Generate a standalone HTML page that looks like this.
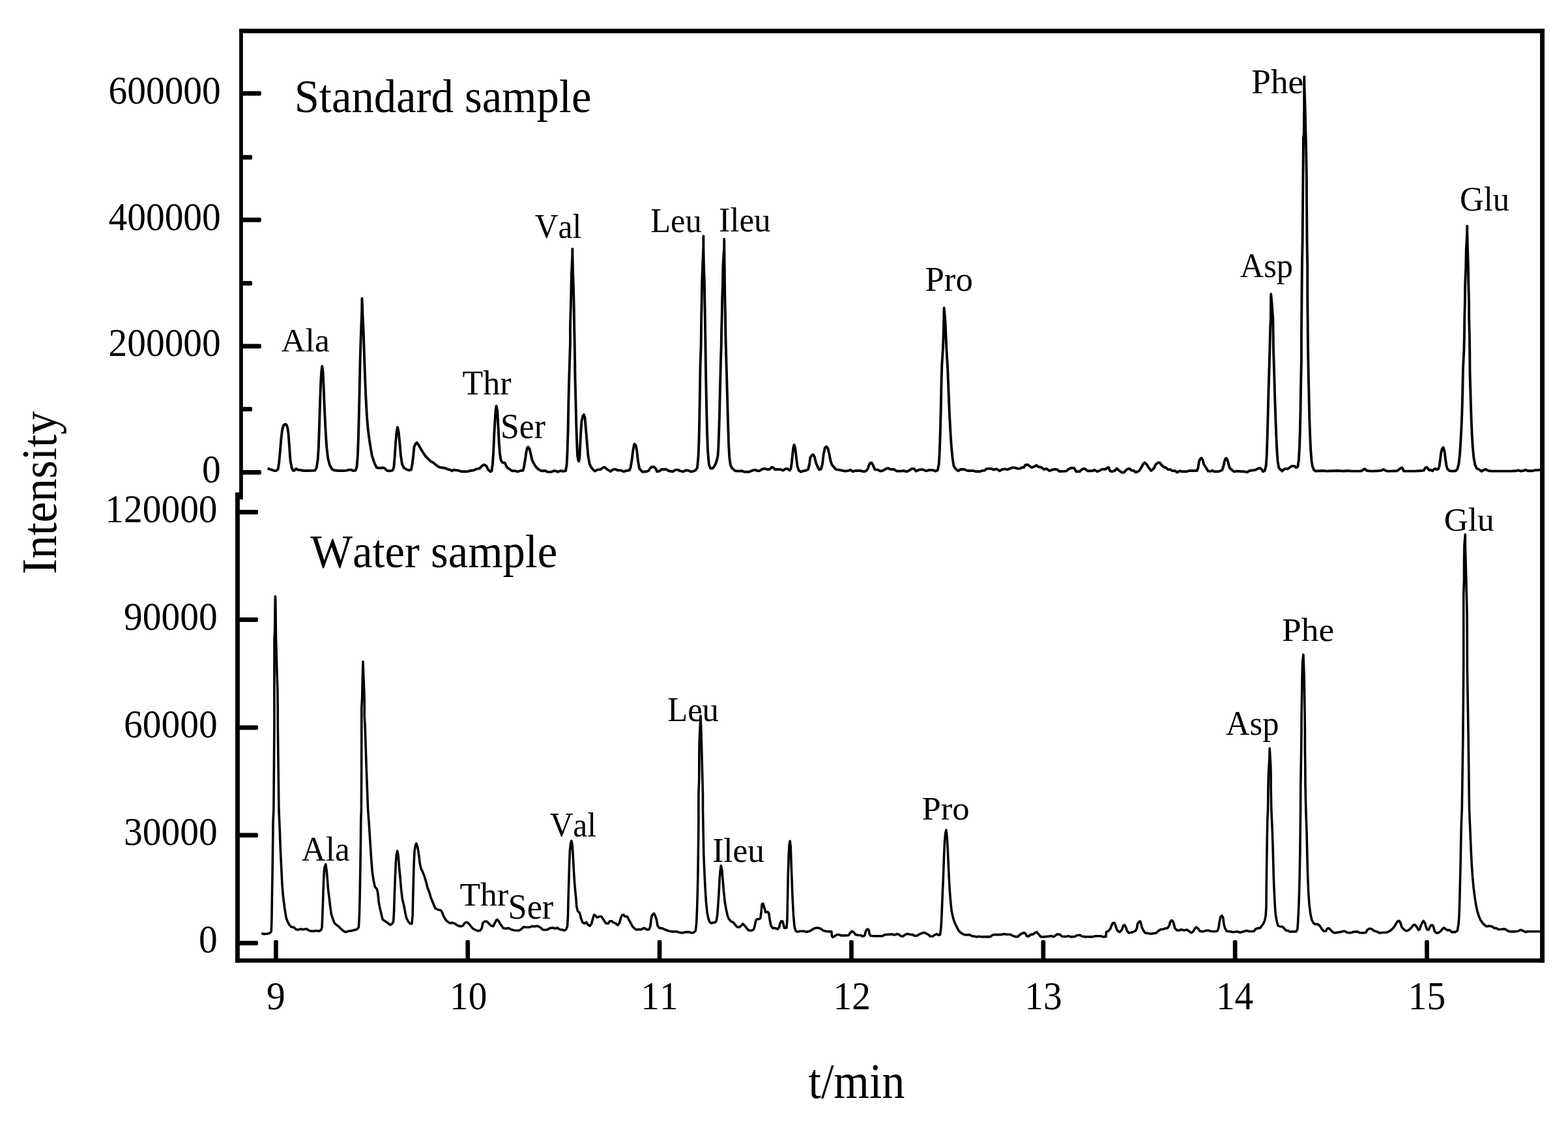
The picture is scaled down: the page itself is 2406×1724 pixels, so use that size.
<!DOCTYPE html>
<html lang="en"><head><meta charset="utf-8"><title>Chromatogram: standard sample and water sample</title>
<style>html,body{margin:0;padding:0;background:#fff}body{width:2406px;height:1724px;overflow:hidden}svg{display:block}text{font-family:'Liberation Serif', serif;fill:#000;font-kerning:none}</style>
</head><body>
<svg width="2406" height="1724" viewBox="0 0 2406 1724" role="img" aria-label="Chromatograms of a standard sample and a water sample, intensity versus t/min">
<rect width="2406" height="1724" fill="#fff"/>
<g stroke="#000" fill="none">
<line x1="367.10" y1="47.5" x2="2370.00" y2="47.5" stroke-width="7.0"/>
<line x1="361.00" y1="1473.3" x2="2370.00" y2="1473.3" stroke-width="6.6"/>
<line x1="2366.55" y1="44.00" x2="2366.55" y2="1476.60" stroke-width="6.9"/>
<line x1="369.95" y1="44.00" x2="369.95" y2="766.0" stroke-width="5.7"/>
<line x1="364.45" y1="755.2" x2="364.45" y2="1476.60" stroke-width="6.9"/>
</g>
<g fill="#000">
<rect x="368.95" y="139.70" width="31.85" height="7.0" rx="2.0"/>
<rect x="368.95" y="333.70" width="31.85" height="7.0" rx="2.0"/>
<rect x="368.95" y="527.50" width="31.85" height="7.0" rx="2.0"/>
<rect x="368.95" y="721.00" width="31.85" height="7.0" rx="2.0"/>
<rect x="368.95" y="237.70" width="18.05" height="7.0" rx="2.0"/>
<rect x="368.95" y="430.90" width="18.05" height="7.0" rx="2.0"/>
<rect x="368.95" y="623.90" width="18.05" height="7.0" rx="2.0"/>
<rect x="363.45" y="781.90" width="32.55" height="7.0" rx="2.0"/>
<rect x="363.45" y="946.90" width="32.55" height="7.0" rx="2.0"/>
<rect x="363.45" y="1112.50" width="32.55" height="7.0" rx="2.0"/>
<rect x="363.45" y="1277.50" width="32.55" height="7.0" rx="2.0"/>
<rect x="363.45" y="1443.00" width="32.55" height="7.0" rx="2.0"/>
<rect x="420.05" y="1442.0" width="6.7" height="32.30" rx="2.0"/>
<rect x="714.40" y="1442.0" width="6.7" height="32.30" rx="2.0"/>
<rect x="1008.75" y="1442.0" width="6.7" height="32.30" rx="2.0"/>
<rect x="1303.10" y="1442.0" width="6.7" height="32.30" rx="2.0"/>
<rect x="1597.45" y="1442.0" width="6.7" height="32.30" rx="2.0"/>
<rect x="1891.80" y="1442.0" width="6.7" height="32.30" rx="2.0"/>
<rect x="2186.15" y="1442.0" width="6.7" height="32.30" rx="2.0"/>
</g>
<g>
<text transform="translate(166.54,158.79) scale(0.9900,1.0550)" font-size="58.00">600000</text>
<text transform="translate(166.54,352.57) scale(0.9900,1.0550)" font-size="58.00">400000</text>
<text transform="translate(166.54,546.35) scale(0.9900,1.0550)" font-size="58.00">200000</text>
<text transform="translate(310.09,740.13) scale(0.9900,1.0550)" font-size="58.00">0</text>
<text transform="translate(161.34,800.94) scale(0.9900,1.0550)" font-size="58.00">120000</text>
<text transform="translate(190.05,966.01) scale(0.9900,1.0550)" font-size="58.00">90000</text>
<text transform="translate(190.05,1131.09) scale(0.9900,1.0550)" font-size="58.00">60000</text>
<text transform="translate(190.05,1296.16) scale(0.9900,1.0550)" font-size="58.00">30000</text>
<text transform="translate(304.89,1461.24) scale(0.9900,1.0550)" font-size="58.00">0</text>
<text transform="translate(409.03,1547.89) scale(0.9900,1.0550)" font-size="58.00">9</text>
<text transform="translate(690.05,1548.04) scale(0.9900,1.0550)" font-size="58.00">10</text>
<text transform="translate(983.18,1548.04) scale(0.9900,1.0550)" font-size="58.00">11</text>
<text transform="translate(1278.44,1548.19) scale(0.9900,1.0550)" font-size="58.00">12</text>
<text transform="translate(1572.25,1547.89) scale(0.9900,1.0550)" font-size="58.00">13</text>
<text transform="translate(1865.89,1548.04) scale(0.9900,1.0550)" font-size="58.00">14</text>
<text transform="translate(2160.85,1547.73) scale(0.9900,1.0550)" font-size="58.00">15</text>
</g>
<g>
<text transform="translate(451.65,172.39) scale(0.9614,1)" font-size="71.44">Standard sample</text>
<text transform="translate(476.28,870.11) scale(0.9515,1)" font-size="72.11">Water sample</text>
<text transform="translate(1240.40,1683.70) scale(0.9158,1)" font-size="76.57">t/min</text>
<text transform="translate(431.49,539.30) scale(1.0052,1)" font-size="51.14">Ala</text>
<text transform="translate(709.54,604.70) scale(1.0042,1)" font-size="51.80">Thr</text>
<text transform="translate(767.99,672.15) scale(0.9499,1)" font-size="54.48">Ser</text>
<text transform="translate(820.72,364.63) scale(0.9569,1)" font-size="51.77">Val</text>
<text transform="translate(998.22,356.32) scale(0.9462,1)" font-size="53.33">Leu</text>
<text transform="translate(1103.26,354.92) scale(0.9500,1)" font-size="53.71">Ileu</text>
<text transform="translate(1419.51,445.55) scale(1.0193,1)" font-size="51.73">Pro</text>
<text transform="translate(1902.85,424.75) scale(0.9621,1)" font-size="52.37">Asp</text>
<text transform="translate(1920.30,142.63) scale(1.0158,1)" font-size="52.48">Phe</text>
<text transform="translate(2240.10,322.89) scale(0.9728,1)" font-size="52.14">Glu</text>
<text transform="translate(462.80,1319.56) scale(0.9846,1)" font-size="52.00">Ala</text>
<text transform="translate(705.56,1389.15) scale(1.0085,1)" font-size="51.22">Thr</text>
<text transform="translate(779.55,1409.34) scale(0.9496,1)" font-size="55.07">Ser</text>
<text transform="translate(843.63,1283.17) scale(0.9413,1)" font-size="52.48">Val</text>
<text transform="translate(1024.27,1105.52) scale(0.9487,1)" font-size="53.33">Leu</text>
<text transform="translate(1093.18,1321.97) scale(0.9653,1)" font-size="53.00">Ileu</text>
<text transform="translate(1414.39,1257.44) scale(1.0238,1)" font-size="51.43">Pro</text>
<text transform="translate(1880.94,1126.71) scale(0.9531,1)" font-size="53.06">Asp</text>
<text transform="translate(1967.04,983.44) scale(1.0381,1)" font-size="51.49">Phe</text>
<text transform="translate(2215.63,813.60) scale(0.9971,1)" font-size="51.43">Glu</text>
<text transform="translate(86.07,880.70) rotate(-90) scale(0.9471,1)" font-size="75.40">Intensity</text>
</g>
<g fill="none" stroke="#000" stroke-width="3.9" stroke-linejoin="round" stroke-linecap="butt" aria-label="Standard sample chromatogram trace">
<path d="M410.6,718.6 413.2,719.3 417.2,720.6 420.5,722.0 423.8,722.0 426.5,720.0 428.2,709.4 429.8,692.2 431.5,672.3 433.1,659.1 435.1,652.5 436.8,650.9 438.4,650.6 440.0,652.5 441.3,656.4 442.6,665.7 444.1,685.6 445.4,705.4 447.6,717.3 450.0,722.0 452.3,721.3 454.5,718.9 456.9,720.6 460.9,721.0 466.2,722.0 474.1,722.0 483.4,721.6 485.7,717.3 487.6,705.4 488.9,685.6 490.0,652.5 491.0,619.4 492.2,586.3 493.3,569.1 494.3,561.8 495.5,570.4 496.6,592.9 497.9,626.0 499.5,659.1 501.2,685.6 503.2,702.8 505.9,713.3 509.2,719.3 512.5,721.3 519.1,722.0 527.0,722.0 532.3,721.6 535.0,720.6 538.9,720.6 541.6,722.0 545.6,721.6 547.5,716.0 548.9,698.8 549.9,672.3 550.9,632.6 551.8,592.9 552.6,553.2 553.2,532.6 554.1,506.2 555.2,479.7 555.5,457.8 556.3,479.7 557.6,506.2 558.5,532.6 559.9,573.1 561.2,606.2 563.0,639.2 564.7,659.1 567.4,678.9 570.7,698.8 574.7,710.7 578.0,717.3 582.6,718.0 587.9,717.3 590.6,718.6 593.9,722.0 598.5,722.3 602.5,721.3 604.4,716.0 605.8,698.8 607.1,678.9 608.4,664.4 610.0,655.1 611.7,663.1 613.3,678.9 615.0,698.8 617.0,712.0 619.7,717.3 623.6,720.0 627.6,721.3 630.9,720.6 632.6,712.0 634.2,698.8 635.5,685.6 637.5,680.9 639.5,678.9 642.2,682.3 645.5,688.2 648.8,693.5 652.7,699.5 656.7,703.4 660.7,707.4 664.7,709.4 668.6,712.7 672.6,716.0 677.9,717.3 683.2,718.0 687.2,720.0 691.1,720.6 693.8,722.3 694.0,721.6 697.1,720.6 697.9,721.0 703.2,721.6 708.5,723.3 716.5,723.3 721.8,722.0 727.1,721.3 731.0,719.3 735.7,718.6 739.6,714.7 742.9,712.7 746.2,714.7 748.9,720.0 752.2,723.3 754.4,722.6 755.9,712.0 757.2,692.2 758.3,665.7 759.5,645.9 760.5,630.0 761.6,622.7 763.2,630.0 764.4,652.5 765.7,678.9 767.0,696.1 768.7,706.1 771.0,709.4 774.7,710.0 776.7,714.7 779.3,718.0 782.6,720.0 785.9,722.3 790.6,722.3 794.5,723.3 798.5,722.0 802.5,721.6 804.1,716.0 805.8,705.4 807.5,693.5 809.1,686.9 810.2,685.6 812.4,688.2 814.4,696.1 816.4,705.4 819.0,710.7 822.3,716.0 826.3,720.0 830.9,722.3 836.9,722.0 840.2,723.9 846.1,723.7 850.1,722.0 853.4,722.6 856.1,723.7 860.0,722.0 863.3,722.9 868.0,722.3 869.7,712.0 870.6,692.2 871.6,659.1 872.3,619.4 873.3,579.7 875.0,525.3 875.0,498.8 875.8,472.3 876.4,445.9 877.0,419.4 878.3,392.9 878.4,381.6 878.5,392.9 879.1,419.4 880.1,445.9 880.7,472.3 881.1,498.8 881.7,525.3 882.5,579.7 883.5,619.4 884.3,652.5 885.2,678.9 886.1,698.8 887.2,705.4 888.1,707.4 889.2,702.8 890.1,685.6 891.1,665.7 892.5,645.9 894.4,637.9 896.0,635.9 897.5,640.6 899.1,659.1 900.7,678.9 902.4,698.8 904.4,710.7 907.0,716.7 910.3,720.6 913.0,722.6 916.3,720.6 921.6,720.0 924.9,717.3 928.2,716.7 930.8,719.3 934.1,721.3 936.8,723.3 940.1,720.6 943.4,719.7 948.0,721.3 953.3,721.6 956.6,723.3 961.3,722.0 965.9,721.3 967.9,716.0 969.5,705.4 971.2,692.2 972.5,684.2 973.6,680.9 975.8,683.6 977.4,692.2 979.1,708.1 981.1,718.6 984.4,722.6 986.0,723.7 991.9,723.3 995.2,722.0 997.9,718.0 999.8,716.3 1003.8,716.3 1006.5,719.3 1008.1,723.3 1011.8,722.6 1015.1,720.0 1022.3,719.7 1025.7,722.3 1032.3,723.3 1036.9,720.6 1040.2,720.6 1043.5,722.3 1048.8,723.3 1052.1,721.3 1056.1,721.6 1059.4,723.3 1063.4,723.0 1067.3,721.3 1070.0,717.3 1071.6,698.8 1072.6,672.3 1073.3,639.2 1074.0,599.5 1074.6,559.8 1075.6,531.9 1075.9,512.0 1076.2,485.6 1076.8,459.1 1077.2,432.6 1078.2,406.2 1079.3,379.7 1079.4,362.1 1079.4,379.7 1079.9,406.2 1080.9,432.6 1081.3,459.1 1081.8,485.6 1082.2,512.0 1082.5,531.9 1083.2,579.7 1084.0,619.4 1084.9,659.1 1086.1,692.2 1087.8,712.0 1089.8,718.0 1092.5,718.6 1095.1,716.7 1097.8,712.0 1099.8,706.7 1101.5,698.8 1102.4,685.6 1103.3,659.1 1104.1,632.6 1105.0,592.9 1106.0,553.2 1106.7,531.9 1107.0,512.0 1107.7,485.6 1108.2,459.1 1109.0,432.6 1109.5,406.2 1111.2,379.7 1111.3,366.8 1111.3,379.7 1111.7,406.2 1112.0,432.6 1112.4,459.1 1113.0,485.6 1113.3,512.0 1113.8,531.9 1115.0,573.1 1115.9,606.2 1117.0,645.9 1118.0,678.9 1119.2,701.4 1120.9,713.3 1123.6,718.6 1128.2,722.3 1133.5,722.6 1138.8,722.3 1142.1,723.7 1149.4,723.7 1154.7,721.6 1158.6,720.6 1162.6,722.3 1165.9,722.0 1169.9,719.3 1173.9,718.9 1177.2,720.0 1181.1,719.7 1183.8,716.7 1186.4,717.1 1189.1,720.2 1194.4,719.7 1198.3,720.2 1201.6,721.6 1205.0,719.3 1208.3,718.9 1211.6,721.6 1213.6,718.6 1214.9,709.4 1216.2,696.1 1217.5,685.6 1218.6,682.3 1220.2,686.9 1221.5,698.8 1223.5,714.7 1225.5,721.3 1228.8,723.7 1232.7,722.3 1236.7,721.6 1240.0,720.0 1242.0,712.0 1243.3,702.1 1245.3,698.8 1247.6,697.2 1249.9,700.8 1251.9,709.4 1254.6,716.0 1257.2,720.6 1259.9,719.3 1261.9,712.0 1263.8,696.1 1265.8,686.9 1268.2,684.9 1270.5,688.2 1272.4,696.1 1274.4,706.7 1276.4,712.7 1279.9,716.7 1282.6,720.0 1287.2,720.6 1291.8,721.6 1296.5,722.6 1301.8,722.0 1305.1,720.6 1308.4,723.3 1312.3,722.0 1320.3,722.0 1325.6,723.3 1328.9,722.3 1331.5,719.3 1333.5,713.3 1335.5,710.0 1337.8,710.0 1340.1,714.7 1342.5,720.2 1346.8,720.6 1350.7,722.6 1354.7,722.0 1358.7,719.3 1362.6,718.0 1365.9,719.7 1371.9,720.0 1375.9,722.6 1382.5,722.6 1386.4,722.0 1391.7,723.3 1395.7,721.3 1399.0,718.9 1402.3,718.9 1405.6,722.6 1410.3,720.6 1415.6,720.0 1420.9,722.3 1425.5,721.0 1431.4,721.0 1435.4,722.6 1438.7,721.3 1440.7,712.0 1441.8,692.2 1442.7,665.7 1443.6,632.6 1444.4,592.9 1445.3,559.8 1447.0,532.6 1447.5,519.4 1448.2,492.9 1448.6,472.1 1450.5,492.9 1451.6,519.4 1452.2,532.6 1454.2,566.5 1455.5,599.5 1456.8,632.6 1458.2,659.1 1459.9,685.6 1461.6,702.8 1463.5,714.7 1466.5,719.3 1470.1,722.3 1473.8,720.0 1479.1,719.7 1484.4,722.0 1493.6,722.0 1497.6,723.3 1502.9,723.3 1506.9,722.0 1510.8,721.6 1514.1,718.9 1521.4,718.9 1524.7,720.6 1528.7,719.3 1531.3,720.6 1534.0,722.3 1537.3,720.2 1541.3,719.3 1545.9,720.2 1549.9,718.6 1553.8,717.1 1558.5,717.6 1561.8,718.9 1565.8,718.6 1567.3,717.1 1571.2,716.7 1573.2,713.1 1577.2,712.7 1579.8,714.9 1583.2,717.1 1587.1,715.7 1590.4,713.6 1593.1,716.0 1597.7,716.7 1601.7,720.0 1605.7,718.9 1610.3,722.3 1614.3,720.6 1618.2,719.7 1622.2,720.2 1625.5,723.0 1631.5,722.9 1636.1,722.6 1639.4,719.7 1643.4,717.7 1648.0,717.6 1651.3,723.3 1656.6,723.3 1660.6,719.7 1664.5,718.6 1668.5,722.3 1676.4,722.3 1679.1,720.6 1683.7,723.3 1687.7,721.6 1691.0,719.7 1696.3,719.7 1700.9,716.7 1703.6,722.6 1706.9,723.3 1710.9,721.6 1713.5,718.6 1717.5,722.0 1721.4,724.6 1724.7,724.6 1728.7,720.2 1732.7,718.6 1736.7,721.6 1740.0,722.0 1742.6,724.6 1747.9,722.3 1751.2,717.3 1753.9,712.0 1756.5,709.6 1759.8,712.7 1763.1,718.0 1766.4,722.0 1770.4,718.6 1773.7,712.0 1777.0,709.6 1779.7,709.6 1782.3,713.3 1785.6,716.3 1788.9,717.1 1792.2,720.0 1796.2,720.2 1798.9,722.3 1803.5,722.3 1806.1,724.6 1810.8,722.3 1814.1,723.3 1820.7,723.3 1824.7,722.0 1832.6,722.0 1836.6,722.0 1838.5,717.3 1839.5,709.4 1841.2,704.7 1843.4,702.5 1845.6,705.4 1847.2,712.0 1850.5,717.3 1853.8,722.6 1857.7,722.9 1860.6,721.6 1863.2,723.3 1869.8,723.3 1875.1,721.3 1877.1,716.0 1878.8,708.1 1880.4,703.4 1881.8,702.8 1883.7,706.1 1885.5,713.3 1887.1,718.0 1890.4,721.0 1893.7,723.3 1899.0,722.6 1905.6,723.3 1909.5,723.3 1913.5,724.2 1917.5,722.0 1922.8,721.3 1926.8,720.6 1930.1,718.6 1933.4,718.0 1936.0,720.0 1938.0,723.3 1940.6,722.0 1942.6,714.7 1943.7,698.8 1944.6,672.3 1945.5,639.2 1946.3,606.2 1947.3,573.1 1948.4,535.1 1948.9,515.3 1949.2,502.0 1949.9,488.8 1950.1,462.3 1950.2,451.0 1951.3,462.3 1953.3,488.8 1953.5,502.0 1953.7,515.3 1954.0,535.1 1955.2,573.1 1956.1,606.2 1957.2,639.2 1958.2,665.7 1959.3,689.5 1960.5,706.7 1962.2,717.3 1965.1,720.6 1967.5,722.6 1969.8,720.0 1972.4,718.9 1975.7,719.3 1979.0,717.1 1982.3,714.9 1986.3,714.9 1988.9,717.3 1991.3,716.0 1992.9,705.4 1994.0,685.6 1994.9,659.1 1995.6,626.0 1996.2,586.3 1996.9,553.2 1996.9,536.4 1996.9,515.2 1997.2,488.8 1997.5,449.1 1997.9,409.4 1998.6,369.7 1999.1,315.0 1999.5,272.0 1999.8,232.3 1999.9,212.5 2000.8,205.9 2001.2,166.2 2001.2,126.5 2001.3,117.8 2001.3,126.5 2002.6,166.2 2003.5,205.9 2003.7,212.5 2004.2,232.3 2004.9,272.0 2005.1,315.0 2005.5,369.7 2006.2,409.4 2006.2,449.1 2006.6,488.8 2006.8,515.2 2007.1,536.4 2007.7,573.1 2008.5,606.2 2009.2,639.2 2010.1,665.7 2011.2,689.5 2012.5,706.7 2014.1,716.0 2016.1,720.6 2018.7,722.6 2024.7,722.3 2031.3,722.0 2035.3,722.6 2043.2,722.3 2052.5,722.0 2061.7,722.6 2067.0,722.0 2075.0,722.6 2085.5,722.6 2089.5,722.3 2092.2,720.0 2094.1,719.3 2097.5,722.0 2104.1,722.6 2114.7,722.3 2119.9,721.6 2122.6,720.0 2125.2,721.3 2127.9,722.6 2134.5,722.6 2143.8,722.3 2147.1,719.7 2149.0,718.4 2151.3,717.1 2153.0,720.6 2154.3,722.6 2161.6,722.6 2172.2,722.6 2180.1,722.0 2184.7,721.6 2186.7,718.0 2188.7,716.7 2190.7,718.0 2192.7,721.0 2196.0,721.0 2198.0,722.3 2200.6,719.7 2202.6,718.9 2204.6,720.0 2207.2,719.3 2208.6,714.7 2209.9,705.4 2211.2,694.8 2212.9,688.2 2214.8,686.2 2216.5,692.2 2218.2,705.4 2219.5,714.7 2221.1,719.3 2224.4,722.3 2229.1,722.6 2233.7,722.3 2236.3,719.3 2238.3,712.0 2239.9,698.8 2241.2,678.9 2242.3,659.1 2243.4,632.6 2244.3,599.5 2244.9,566.5 2246.4,536.4 2246.9,515.3 2247.2,488.8 2247.9,462.3 2248.2,435.9 2249.3,409.4 2249.8,382.9 2251.2,356.5 2251.3,346.8 2251.3,356.5 2252.0,382.9 2252.9,409.4 2253.3,435.9 2254.0,462.3 2254.2,488.8 2254.9,515.3 2255.2,536.4 2255.5,573.1 2256.5,606.2 2257.5,639.2 2258.6,665.7 2259.8,685.6 2261.5,702.8 2263.5,713.3 2266.1,718.6 2269.4,720.0 2273.4,722.9 2276.7,721.0 2279.3,719.7 2282.0,721.3 2284.6,722.3 2291.3,722.6 2304.5,722.6 2317.7,722.6 2325.7,722.3 2329.6,721.3 2333.6,722.6 2337.6,722.0 2340.9,720.6 2344.2,722.3 2350.8,722.3 2354.8,721.3 2360.1,721.0 2363.4,720.6"/>
</g>
<g fill="none" stroke="#000" stroke-width="3.6" stroke-linejoin="round" stroke-linecap="butt" aria-label="Water sample chromatogram trace">
<path d="M401.2,1431.8 404.6,1432.6 409.8,1432.2 413.8,1431.3 416.2,1428.9 416.9,1410.4 417.4,1377.3 418.1,1337.6 418.6,1297.9 419.1,1258.2 419.9,1241.4 420.4,1177.9 420.9,1115.0 420.9,1085.3 420.9,1058.8 420.9,1032.3 421.0,992.6 421.0,979.4 421.7,966.2 422.1,926.5 422.4,914.8 422.9,926.5 423.3,966.2 423.5,979.4 423.9,992.6 425.0,1032.3 425.9,1058.8 426.2,1085.3 426.3,1115.0 427.1,1177.9 427.9,1241.4 429.2,1271.5 430.4,1304.5 431.7,1331.0 433.0,1357.5 434.7,1377.3 437.0,1394.5 439.2,1407.8 441.6,1414.4 444.3,1419.0 446.9,1421.7 450.9,1422.3 454.2,1425.6 457.5,1426.0 461.5,1425.0 465.4,1425.6 470.7,1424.7 474.7,1427.6 480.0,1428.3 485.3,1427.6 489.2,1428.3 492.6,1426.6 494.1,1422.3 494.8,1403.8 495.5,1383.9 496.1,1364.1 496.9,1344.2 497.8,1331.0 499.8,1325.7 501.4,1337.6 502.5,1350.9 503.5,1364.1 504.9,1374.7 506.4,1387.9 508.4,1402.5 510.7,1409.1 513.1,1415.7 516.4,1418.6 520.3,1421.7 523.7,1425.2 527.6,1428.3 530.3,1429.6 534.2,1428.3 539.5,1427.6 543.5,1426.6 547.5,1425.6 550.4,1422.3 551.4,1403.8 552.1,1377.3 552.8,1337.6 553.4,1297.9 553.8,1258.2 554.4,1241.4 554.7,1177.9 554.8,1115.0 554.8,1098.5 554.8,1085.3 555.6,1072.0 556.2,1045.6 556.9,1019.1 557.0,1014.9 557.0,1019.1 558.2,1045.6 559.2,1072.0 559.2,1085.3 559.2,1098.5 560.2,1115.0 562.2,1177.9 564.6,1241.4 566.3,1264.8 568.0,1291.3 569.7,1317.8 571.3,1337.6 573.3,1350.9 575.3,1360.1 578.6,1364.1 579.9,1370.7 581.2,1383.9 582.5,1390.6 584.5,1399.8 587.2,1410.4 591.1,1413.1 595.1,1415.7 598.4,1418.6 601.7,1417.0 603.7,1413.1 604.6,1397.2 605.4,1370.7 606.4,1344.2 607.3,1324.4 608.3,1311.2 609.7,1305.2 611.3,1313.8 612.6,1331.0 613.9,1344.2 615.6,1364.1 617.3,1378.7 619.6,1387.9 621.8,1399.8 623.6,1407.8 626.2,1413.1 628.9,1416.4 631.9,1417.0 633.2,1403.8 633.7,1377.3 634.4,1350.9 635.1,1324.4 636.1,1304.5 637.5,1296.6 638.8,1293.7 640.8,1299.3 642.7,1311.2 644.3,1324.4 646.1,1332.3 648.7,1337.6 651.3,1344.2 654.0,1353.5 656.0,1361.4 658.6,1368.1 661.3,1377.3 664.6,1385.3 667.9,1393.2 671.9,1395.2 675.8,1395.9 678.5,1399.2 680.5,1405.1 683.8,1410.4 686.0,1413.1 689.9,1415.7 694.6,1415.4 698.5,1417.0 702.5,1419.7 707.1,1421.0 710.4,1419.9 713.1,1415.7 716.4,1414.4 719.0,1416.4 722.3,1420.3 725.7,1424.3 729.6,1426.3 733.6,1427.9 736.9,1427.0 739.3,1423.6 740.9,1415.7 743.5,1413.3 746.8,1413.3 750.1,1416.4 753.4,1419.7 756.8,1420.7 759.4,1415.7 761.4,1411.7 763.1,1410.4 765.4,1413.1 767.3,1417.0 770.0,1420.3 772.0,1423.6 775.9,1424.3 780.6,1423.6 785.2,1426.0 789.8,1427.0 796.4,1427.3 799.8,1425.2 803.7,1421.7 807.7,1422.3 812.3,1422.3 816.3,1420.7 820.3,1421.0 824.9,1420.3 828.9,1422.3 832.8,1426.0 838.8,1426.3 844.1,1423.6 848.7,1423.0 852.0,1424.3 855.3,1423.0 858.6,1425.6 862.6,1426.0 865.9,1427.3 868.6,1425.6 870.6,1421.0 871.5,1403.8 872.1,1377.3 872.9,1350.9 873.6,1324.4 874.5,1304.5 875.6,1294.0 876.8,1289.7 878.1,1295.3 879.2,1311.2 880.2,1331.0 881.4,1350.9 882.5,1364.1 883.8,1377.3 884.8,1390.6 886.4,1397.2 889.1,1399.8 890.4,1403.8 891.7,1409.1 893.7,1414.4 896.4,1416.4 899.7,1414.6 901.6,1417.7 905.0,1420.3 907.6,1417.0 909.6,1409.1 911.6,1403.1 913.6,1404.5 916.2,1407.1 919.5,1405.8 922.8,1405.8 925.5,1409.7 928.1,1413.7 930.1,1416.4 933.4,1416.4 935.4,1413.1 938.7,1412.8 941.3,1415.0 944.7,1416.4 948.0,1419.0 950.6,1415.7 952.6,1407.8 954.6,1403.8 956.6,1403.1 959.2,1405.8 962.5,1405.8 965.2,1411.1 967.8,1415.7 970.5,1421.0 973.8,1424.3 976.6,1426.0 980.6,1425.6 984.6,1425.6 987.2,1423.6 989.8,1423.9 992.5,1426.0 995.8,1425.6 997.8,1421.0 999.1,1410.4 1000.2,1404.5 1002.4,1401.8 1003.7,1401.1 1005.5,1405.1 1007.3,1410.4 1009.0,1419.7 1011.7,1423.4 1016.3,1423.9 1021.6,1426.3 1026.9,1428.3 1032.2,1428.9 1038.8,1428.9 1042.1,1430.3 1046.8,1430.9 1052.0,1429.6 1058.0,1429.6 1061.3,1430.9 1064.6,1430.3 1067.3,1427.6 1068.6,1417.0 1069.5,1397.2 1070.3,1370.7 1071.0,1337.6 1071.5,1297.9 1071.9,1258.2 1071.9,1242.6 1071.9,1218.8 1072.8,1192.3 1072.8,1165.9 1073.1,1139.4 1074.3,1112.9 1075.0,1097.8 1075.6,1112.9 1076.5,1139.4 1077.1,1165.9 1077.8,1192.3 1078.5,1218.8 1078.5,1242.6 1079.2,1278.1 1079.8,1311.2 1080.9,1337.6 1082.2,1364.1 1083.5,1383.9 1085.1,1399.8 1087.1,1409.1 1089.1,1414.4 1091.5,1416.0 1094.4,1415.0 1097.7,1414.6 1099.4,1411.7 1100.7,1403.8 1101.7,1390.6 1102.6,1377.3 1103.4,1364.1 1104.0,1350.9 1105.0,1337.6 1106.3,1327.7 1107.9,1335.0 1109.2,1350.9 1110.5,1366.7 1112.3,1383.9 1114.2,1394.5 1116.2,1403.8 1118.2,1409.1 1121.5,1413.1 1125.5,1415.0 1128.1,1418.3 1130.8,1421.7 1134.1,1422.3 1137.0,1420.3 1140.0,1417.0 1142.7,1419.7 1145.3,1423.0 1148.6,1427.0 1152.6,1427.3 1156.6,1425.6 1158.2,1419.7 1159.9,1411.7 1161.9,1409.7 1164.5,1409.7 1166.9,1408.4 1168.2,1397.2 1169.2,1386.6 1170.9,1385.9 1172.7,1391.9 1174.8,1399.2 1177.8,1398.5 1179.7,1400.5 1181.1,1410.4 1183.0,1419.7 1185.7,1423.6 1189.7,1423.6 1193.0,1425.2 1195.6,1422.3 1196.9,1416.4 1198.9,1412.8 1200.9,1413.1 1202.2,1418.3 1203.6,1423.6 1206.9,1423.0 1207.9,1410.4 1208.6,1377.3 1209.2,1344.2 1210.2,1311.2 1211.1,1295.3 1212.2,1290.0 1213.2,1297.9 1214.1,1324.4 1215.1,1350.9 1216.1,1377.3 1217.5,1403.8 1219.0,1421.0 1220.8,1427.6 1223.4,1429.2 1228.0,1428.3 1233.3,1428.3 1237.3,1429.2 1242.6,1428.3 1246.6,1425.6 1250.5,1423.6 1254.5,1423.0 1259.1,1424.3 1263.1,1427.3 1267.1,1428.3 1271.9,1428.9 1275.9,1428.9 1276.5,1435.6 1277.9,1437.5 1281.2,1435.6 1283.8,1433.6 1287.8,1433.6 1290.4,1434.9 1297.1,1434.9 1302.3,1434.5 1305.0,1430.3 1307.6,1428.3 1310.3,1430.3 1312.9,1433.6 1316.9,1434.5 1320.9,1434.5 1323.5,1436.2 1326.8,1434.9 1328.1,1429.6 1329.5,1426.3 1331.5,1425.0 1333.4,1427.3 1334.1,1432.9 1336.1,1435.3 1340.7,1435.8 1347.3,1435.8 1354.0,1435.6 1357.9,1433.6 1363.2,1433.2 1368.5,1432.9 1372.5,1434.0 1376.4,1432.6 1379.8,1433.6 1382.4,1435.8 1385.7,1436.2 1389.0,1433.6 1392.3,1432.2 1396.3,1433.2 1400.3,1433.6 1402.9,1435.3 1406.9,1435.3 1410.9,1432.9 1414.8,1431.3 1418.1,1430.3 1421.4,1431.8 1424.7,1433.6 1427.4,1436.2 1430.7,1436.2 1434.0,1434.2 1437.3,1432.6 1440.0,1434.2 1442.6,1433.6 1443.9,1423.6 1444.7,1410.4 1445.5,1390.6 1446.3,1370.7 1447.2,1350.9 1447.9,1331.0 1448.6,1311.2 1449.5,1291.3 1450.6,1278.1 1451.9,1273.1 1453.2,1284.7 1454.3,1304.5 1455.2,1324.4 1456.1,1344.2 1457.2,1364.1 1458.5,1381.3 1460.1,1397.2 1462.5,1407.8 1465.1,1415.7 1468.4,1422.3 1471.7,1428.3 1475.7,1431.6 1479.7,1433.6 1483.6,1434.0 1487.6,1433.6 1491.6,1435.6 1495.5,1436.2 1498.9,1437.1 1502.2,1436.2 1506.1,1436.9 1511.4,1436.9 1515.4,1436.6 1519.4,1436.9 1522.7,1434.2 1526.0,1433.6 1531.3,1433.6 1536.6,1433.6 1540.5,1432.6 1544.5,1433.2 1549.8,1433.2 1553.1,1434.9 1557.7,1436.6 1561.9,1436.6 1564.6,1434.0 1567.9,1431.8 1571.2,1430.5 1573.8,1432.2 1575.1,1435.6 1578.5,1436.2 1581.1,1433.6 1585.7,1432.9 1588.4,1430.5 1591.0,1429.6 1593.7,1432.9 1597.0,1436.9 1602.9,1436.9 1608.2,1436.2 1613.5,1435.6 1616.8,1436.9 1619.5,1434.9 1622.1,1432.9 1626.1,1433.2 1629.4,1436.2 1636.0,1436.6 1639.3,1435.6 1642.6,1436.9 1649.2,1436.6 1652.6,1434.5 1657.2,1434.2 1660.5,1436.2 1665.1,1436.9 1675.7,1436.9 1681.0,1435.8 1688.9,1435.8 1692.9,1436.9 1696.9,1436.6 1697.5,1429.6 1700.2,1428.3 1703.5,1425.0 1705.5,1419.7 1707.5,1415.7 1710.1,1415.4 1711.7,1419.7 1713.4,1425.0 1715.4,1428.3 1718.3,1429.6 1721.4,1426.3 1723.3,1420.3 1725.3,1418.6 1727.3,1421.7 1729.3,1427.6 1732.0,1430.9 1735.3,1430.3 1739.2,1429.2 1742.5,1427.6 1744.5,1423.6 1745.6,1417.0 1747.2,1414.4 1749.6,1413.1 1750.9,1417.0 1752.2,1422.3 1754.4,1427.0 1757.1,1430.9 1761.7,1431.6 1765.7,1432.2 1769.7,1431.6 1773.6,1431.3 1776.9,1428.3 1780.9,1425.6 1784.9,1425.2 1788.2,1423.9 1791.5,1423.6 1794.1,1419.7 1795.5,1414.4 1797.5,1411.7 1799.4,1412.4 1801.2,1417.0 1802.7,1423.6 1806.1,1427.0 1809.4,1427.0 1812.7,1425.6 1816.6,1427.0 1821.3,1426.0 1824.6,1428.3 1827.9,1430.9 1831.2,1428.3 1833.8,1423.6 1835.8,1422.1 1838.5,1424.3 1841.1,1428.3 1845.8,1428.9 1849.9,1427.6 1853.9,1427.0 1857.2,1428.3 1862.5,1428.7 1867.8,1428.3 1869.8,1423.6 1871.1,1414.4 1872.8,1406.4 1875.1,1404.5 1876.8,1407.8 1878.1,1418.3 1879.7,1423.6 1882.3,1428.3 1887.6,1428.7 1890.9,1429.6 1895.6,1429.2 1898.2,1428.7 1902.9,1430.3 1907.5,1428.9 1912.8,1427.6 1918.1,1428.7 1924.0,1428.3 1926.7,1425.0 1930.0,1423.6 1933.3,1423.6 1935.9,1420.3 1938.6,1416.4 1940.8,1411.7 1942.2,1403.8 1943.0,1390.6 1943.2,1364.1 1943.5,1337.6 1943.9,1311.2 1944.3,1284.7 1944.8,1258.2 1945.6,1241.4 1946.0,1205.0 1946.4,1188.5 1947.1,1175.3 1947.9,1162.0 1948.2,1147.9 1949.0,1162.0 1949.8,1175.3 1950.1,1188.5 1950.1,1205.0 1950.8,1241.4 1952.2,1271.5 1953.1,1297.9 1953.8,1324.4 1954.5,1350.9 1955.4,1370.7 1956.4,1390.6 1957.5,1403.8 1959.1,1413.1 1961.1,1419.7 1963.7,1421.0 1967.7,1421.3 1970.3,1423.6 1973.0,1427.0 1976.3,1427.6 1979.6,1429.2 1984.2,1428.9 1988.9,1428.9 1990.9,1425.0 1991.9,1410.4 1992.8,1390.6 1993.5,1370.7 1994.2,1344.2 1994.8,1311.2 1995.2,1278.1 1995.6,1241.4 1995.8,1205.0 1996.3,1175.3 1996.7,1148.8 1997.0,1122.3 1997.1,1095.9 1997.6,1069.4 1998.0,1042.9 1998.6,1016.5 1999.9,1004.0 2000.4,1016.5 2001.3,1042.9 2001.7,1069.4 2002.1,1095.9 2002.4,1122.3 2002.4,1148.8 2002.8,1175.3 2003.0,1205.0 2003.8,1241.4 2005.1,1278.1 2005.8,1311.2 2006.7,1344.2 2007.8,1370.7 2009.1,1387.9 2010.7,1401.1 2012.7,1410.4 2015.3,1415.7 2018.0,1417.7 2022.0,1417.3 2025.3,1420.3 2027.9,1424.3 2031.2,1428.3 2034.5,1428.3 2036.5,1424.3 2039.2,1423.9 2041.8,1426.3 2044.4,1429.2 2047.8,1430.9 2051.7,1430.3 2057.0,1429.6 2061.0,1428.3 2063.6,1428.3 2066.9,1430.3 2072.2,1430.9 2076.9,1429.2 2082.2,1428.9 2086.1,1430.5 2091.4,1430.9 2096.1,1430.3 2098.0,1426.3 2101.3,1424.3 2104.7,1424.7 2108.0,1427.6 2112.6,1428.9 2116.6,1430.9 2121.9,1430.5 2128.5,1430.0 2133.1,1427.6 2137.7,1423.6 2140.4,1419.7 2143.1,1415.0 2145.0,1412.8 2147.0,1412.4 2149.0,1415.7 2151.0,1422.3 2153.6,1425.0 2156.9,1427.6 2160.3,1427.3 2163.6,1425.0 2166.2,1422.1 2168.9,1418.6 2171.5,1418.6 2174.1,1422.3 2176.8,1426.6 2178.5,1425.0 2180.1,1419.7 2182.5,1415.0 2184.3,1412.4 2186.5,1415.7 2188.0,1421.0 2189.6,1425.6 2192.0,1426.3 2194.0,1422.3 2195.7,1419.0 2198.4,1419.0 2200.0,1423.0 2201.3,1428.3 2203.9,1430.9 2207.2,1430.9 2210.5,1428.3 2213.2,1425.0 2215.6,1423.0 2217.8,1424.7 2220.5,1426.6 2224.4,1426.6 2227.7,1429.6 2233.0,1429.6 2236.3,1427.6 2238.1,1417.0 2239.0,1403.8 2239.7,1383.9 2240.3,1357.5 2241.0,1331.0 2241.6,1297.9 2242.3,1264.8 2243.3,1240.1 2244.9,1127.6 2245.7,1025.0 2245.7,982.0 2245.7,942.3 2245.7,913.2 2246.5,889.4 2246.5,862.9 2246.9,836.5 2248.3,819.7 2248.3,836.5 2249.1,862.9 2249.8,889.4 2250.4,913.2 2251.1,942.3 2251.3,982.0 2251.4,1025.0 2253.1,1127.6 2254.5,1240.1 2255.8,1271.5 2256.9,1297.9 2258.2,1324.4 2259.5,1344.2 2261.1,1361.4 2262.8,1374.7 2264.8,1387.9 2266.8,1397.2 2269.4,1405.8 2272.1,1411.7 2275.4,1416.4 2278.0,1418.6 2280.7,1421.0 2284.6,1420.3 2289.3,1421.0 2292.6,1423.4 2296.6,1423.9 2299.2,1425.6 2304.5,1425.2 2307.8,1424.7 2311.1,1426.0 2314.4,1428.3 2317.7,1428.9 2324.3,1428.9 2329.6,1428.3 2332.9,1426.3 2336.3,1427.3 2340.9,1429.6 2344.2,1428.7 2350.8,1428.7 2357.4,1428.7 2363.4,1428.7"/>
</g>
</svg></body></html>
